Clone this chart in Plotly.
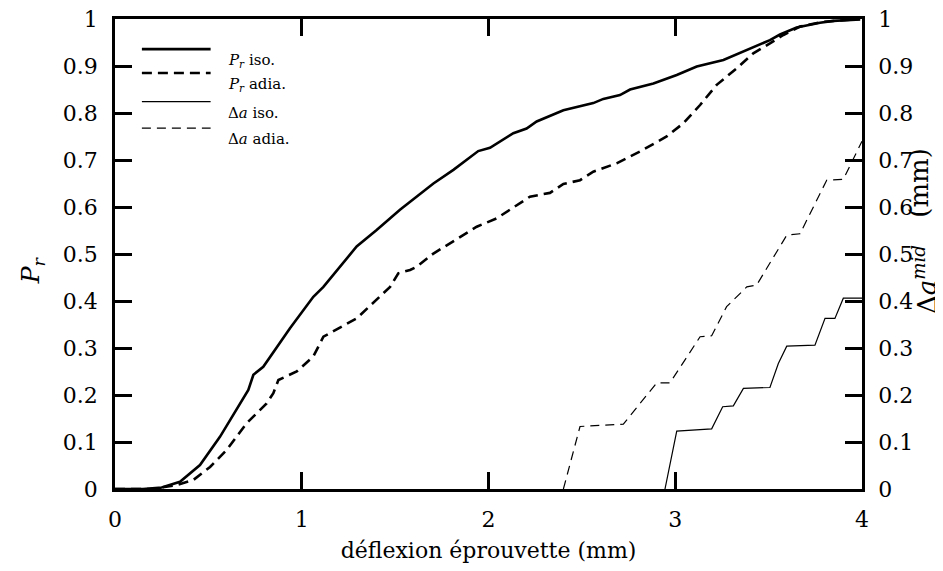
import plotly.graph_objects as go

# deflexion (mm) and Pr, isothermal
x_pr_iso = [0.0, 0.15, 0.25, 0.348, 0.455, 0.562, 0.714, 0.741, 0.794, 0.848, 0.937,
            1.062, 1.116, 1.294, 1.401, 1.526, 1.705, 1.812, 1.945, 2.008, 2.133,
            2.204, 2.258, 2.401, 2.561, 2.615, 2.704, 2.758, 2.883, 3.008, 3.115,
            3.258, 3.383, 3.507, 3.561, 3.650, 3.775, 3.846, 3.99]
pr_iso = [0.0, 0.0, 0.003, 0.0155, 0.051, 0.111, 0.211, 0.243, 0.260, 0.292, 0.342,
          0.409, 0.430, 0.516, 0.551, 0.594, 0.650, 0.679, 0.719, 0.726, 0.757,
          0.767, 0.782, 0.806, 0.821, 0.830, 0.838, 0.850, 0.863, 0.881, 0.899,
          0.913, 0.934, 0.955, 0.967, 0.982, 0.992, 0.996, 0.999]

# deflexion (mm) and Pr, adiabatic
x_pr_adia = [0.0, 0.2, 0.330, 0.419, 0.509, 0.598, 0.705, 0.812, 0.848, 0.875, 0.973,
             1.062, 1.116, 1.294, 1.473, 1.517, 1.580, 1.616, 1.705, 1.794, 1.937,
             2.044, 2.222, 2.329, 2.401, 2.490, 2.561, 2.686, 2.811, 2.954, 3.043,
             3.133, 3.222, 3.329, 3.418, 3.507, 3.579, 3.668, 3.793, 3.99]
pr_adia = [0.0, 0.0, 0.0085, 0.019, 0.047, 0.083, 0.140, 0.182, 0.204, 0.232, 0.250,
           0.282, 0.324, 0.363, 0.430, 0.459, 0.466, 0.473, 0.501, 0.523, 0.558,
           0.576, 0.622, 0.630, 0.649, 0.657, 0.675, 0.693, 0.718, 0.750, 0.778,
           0.817, 0.860, 0.895, 0.927, 0.948, 0.966, 0.984, 0.994, 1.0]

# deflexion (mm) and crack advance (mm), isothermal
x_da_iso = [2.945, 3.008, 3.195, 3.254, 3.311, 3.365, 3.507, 3.552, 3.597, 3.748,
            3.802, 3.855, 3.900, 4.0]
da_iso = [0.0, 0.123, 0.128, 0.175, 0.177, 0.214, 0.216, 0.267, 0.304, 0.306,
          0.363, 0.363, 0.406, 0.406]

# deflexion (mm) and crack advance (mm), adiabatic
x_da_adia = [2.401, 2.490, 2.722, 2.901, 2.972, 3.133, 3.195, 3.275, 3.383, 3.436,
             3.597, 3.668, 3.811, 3.900, 4.0]
da_adia = [0.0, 0.133, 0.138, 0.226, 0.226, 0.324, 0.326, 0.388, 0.430, 0.434,
           0.540, 0.543, 0.657, 0.659, 0.74]

x_ticks = [0, 1, 2, 3, 4]
y_ticks = [0, 0.1, 0.2, 0.3, 0.4, 0.5, 0.6, 0.7, 0.8, 0.9, 1]
y_labels = ['0', '0.1', '0.2', '0.3', '0.4', '0.5', '0.6', '0.7', '0.8', '0.9', '1']

legend_names = ['<i>P<sub>r</sub></i> iso.', '<i>P<sub>r</sub></i> adia.',
                '\u0394<i>a</i> iso.', '\u0394<i>a</i> adia.']

FONT = 'DejaVu Serif'


def create_plot():
    """create_plot
    Build the Pr / crack advance vs deflexion chart and save it as html
    """
    styles = [dict(width=2.6, dash='solid'), dict(width=2.6, dash='10px,6px'),
              dict(width=1.2, dash='solid'), dict(width=1.2, dash='9px,6px')]
    series = [(x_pr_iso, pr_iso, 'y'), (x_pr_adia, pr_adia, 'y'),
              (x_da_iso, da_iso, 'y2'), (x_da_adia, da_adia, 'y2')]

    fig = go.Figure()
    for (xs, ys, ax), st, name in zip(series, styles, legend_names):
        fig.add_trace(go.Scatter(x=xs, y=ys, yaxis=ax, mode='lines', name=name,
                                 line=dict(color='black', **st), showlegend=False,
                                 hoverinfo='skip'))

    # hand drawn legend, longer line samples than plotly's own
    leg_y = [0.936, 0.885, 0.824, 0.768]
    for st, name, yy in zip(styles, legend_names, leg_y):
        fig.add_shape(type='line', xref='paper', yref='paper',
                      x0=0.036, x1=0.128, y0=yy, y1=yy,
                      line=dict(color='black', **st))
        fig.add_annotation(xref='paper', yref='paper', x=0.148, y=yy,
                           text=name, showarrow=False, xanchor='left',
                           font=dict(family=FONT, size=15, color='black'))

    # axis titles as rotated annotations so they can sit close to the labels
    title_font = dict(family=FONT, size=26, color='black')
    fig.add_annotation(xref='paper', yref='paper', x=-0.134, y=0.465,
                       text='<i>P<sub>r</sub></i>', showarrow=False, textangle=-90,
                       font=dict(family=FONT, size=25, color='black'))
    fig.add_annotation(xref='paper', yref='paper', x=1.110, y=0.445,
                       text='\u0394<i>a</i><sup><i>mid</i></sup>', showarrow=False,
                       textangle=-90, font=title_font)
    fig.add_annotation(xref='paper', yref='paper', x=1.098, y=0.652,
                       text='(mm)', showarrow=False,
                       textangle=-90, font=title_font)

    axis_common = dict(ticks='inside', ticklen=17, tickwidth=2.5, tickcolor='black',
                       showline=True, linewidth=2.5, linecolor='black',
                       showgrid=False, zeroline=False, automargin=False,
                       ticklabeloverflow='allow',
                       tickfont=dict(family=FONT, size=22, color='black'))

    fig.update_layout(
        width=935, height=563,
        margin=dict(l=107, r=81, t=11, b=82),
        plot_bgcolor='white', paper_bgcolor='white',
        xaxis=dict(range=[0, 4], tickvals=x_ticks, mirror='ticks',
                   ticklabelstandoff=9,
                   title=dict(text='déflexion éprouvette (mm)', standoff=12,
                              font=dict(family=FONT, size=22, color='black')),
                   **axis_common),
        yaxis=dict(range=[0, 1], tickvals=y_ticks, ticktext=y_labels,
                   ticklabelstandoff=10, **axis_common),
        yaxis2=dict(range=[0, 1], tickvals=y_ticks, ticktext=y_labels,
                    overlaying='y', side='right', ticklabelstandoff=9,
                    **axis_common),
    )
    fig.write_html('out.html')


def main():
    create_plot()


if __name__ == '__main__':
    main()
